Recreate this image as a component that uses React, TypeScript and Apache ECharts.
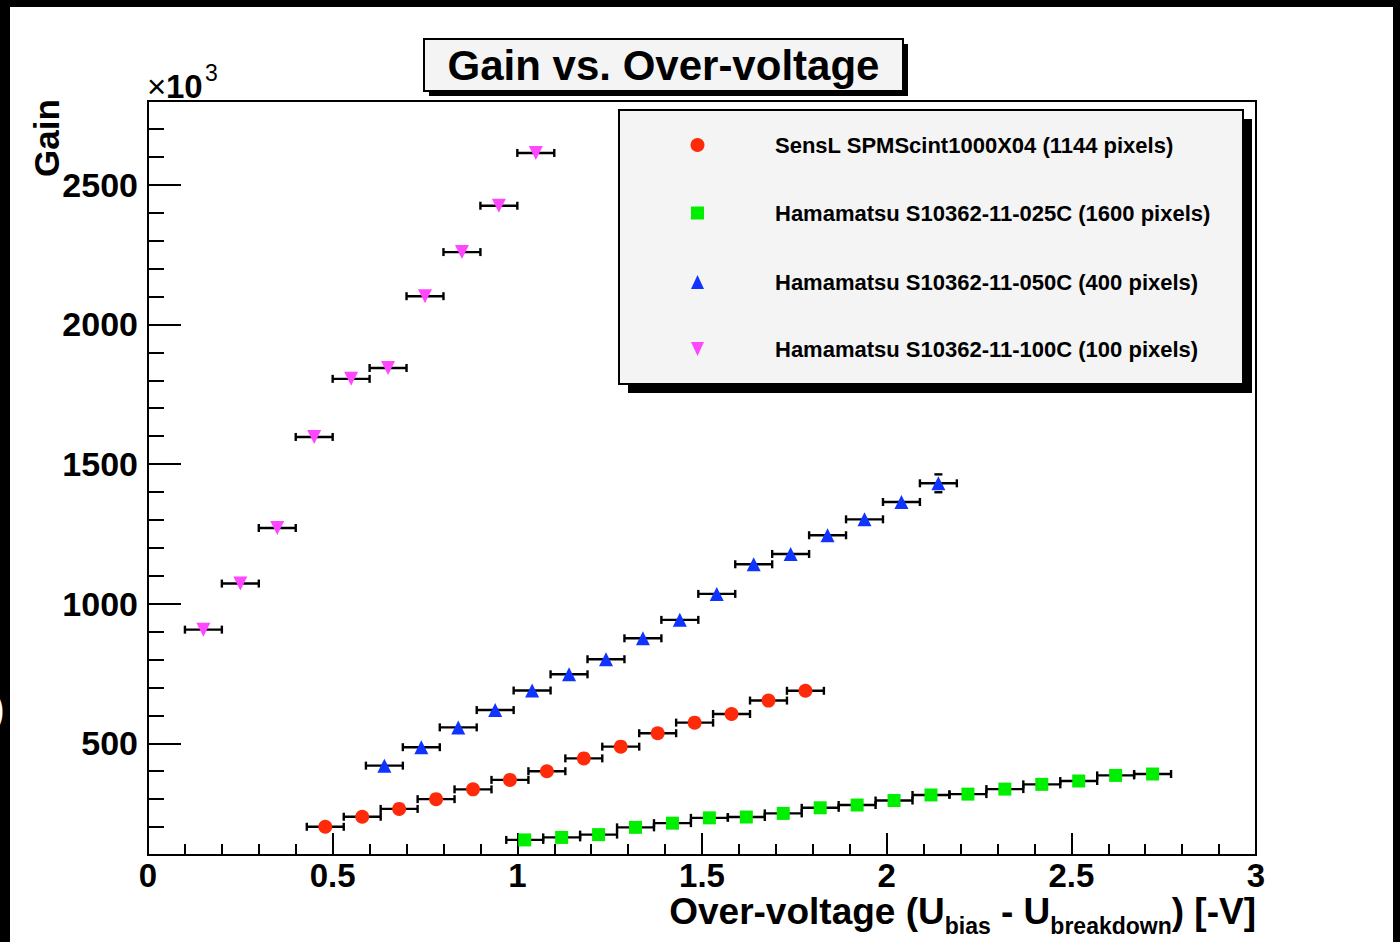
import React, { useEffect, useRef } from "react";
import * as echarts from "echarts";

const FONT = '"Liberation Sans", Arial, Helvetica, sans-serif';

// ---- data (Gain in units of 10^3) ----
const xSensL = [0.48, 0.58, 0.68, 0.78, 0.88, 0.98, 1.08, 1.18, 1.28, 1.38, 1.48, 1.58, 1.68, 1.78];
const ySensL = [201, 237, 265, 300, 335, 369, 400, 446, 488, 536, 574, 605, 653, 688];
const eySensL = [5, 5, 5, 5, 5, 5, 5, 5, 5, 5, 5, 5, 5, 5];

const x025 = [1.02, 1.12, 1.22, 1.32, 1.42, 1.52, 1.62, 1.72, 1.82, 1.92, 2.02, 2.12, 2.22, 2.32, 2.42, 2.52, 2.62, 2.72];
const y025 = [154, 163, 173, 199, 214, 233, 236, 249, 269, 279, 295, 315, 318, 336, 353, 365, 385, 390];
const ey025 = [3, 3, 3, 3, 3, 3, 3, 3, 3, 3, 3, 3, 3, 3, 3, 3, 3, 3];

const x050 = [0.64, 0.74, 0.84, 0.94, 1.04, 1.14, 1.24, 1.34, 1.44, 1.54, 1.64, 1.74, 1.84, 1.94, 2.04, 2.14];
const y050 = [420, 486, 557, 619, 689, 747, 801, 876, 942, 1035, 1141, 1178, 1245, 1302, 1364, 1431];
const ey050 = [8, 8, 9, 10, 10, 11, 12, 12, 13, 14, 15, 16, 17, 18, 20, 32];

const x100 = [0.15, 0.25, 0.35, 0.45, 0.55, 0.65, 0.75, 0.85, 0.95, 1.05];
const y100 = [907, 1072, 1271, 1597, 1805, 1844, 2101, 2259, 2425, 2614];
const ey100 = [10, 10, 12, 14, 15, 15, 17, 18, 19, 20];

const X_ERR = 0.05;

const seriesNames = [
  "SensL SPMScint1000X04 (1144 pixels)",
  "Hamamatsu S10362-11-025C (1600 pixels)",
  "Hamamatsu S10362-11-050C (400 pixels)",
  "Hamamatsu S10362-11-100C (100 pixels)",
];
const seriesColors = ["#ff2a0a", "#00ee00", "#1034ff", "#ff47ff"];

const yMajorTicks = [500, 1000, 1500, 2000, 2500];
const yMinorTicks = [200, 300, 400, 600, 700, 800, 900, 1100, 1200, 1300, 1400, 1600, 1700, 1800, 1900, 2100, 2200, 2300, 2400, 2600, 2700];
const X_MIN = 0, X_MAX = 3, X_STEP = 0.5;
const Y_MIN = 100, Y_MAX = 2800;

const renderErr = (_params: any, api: any) => {
  const x = api.value(0), y = api.value(1), ex = api.value(2), ey = api.value(3);
  const c = api.coord([x, y]);
  const l = api.coord([x - ex, y]);
  const r = api.coord([x + ex, y]);
  const st = { stroke: "#000", lineWidth: 2.4 };
  const cap = 4;
  const ch: any[] = [
    { type: "line", shape: { x1: l[0], y1: c[1], x2: r[0], y2: c[1] }, style: st },
    { type: "line", shape: { x1: l[0], y1: c[1] - cap, x2: l[0], y2: c[1] + cap }, style: st },
    { type: "line", shape: { x1: r[0], y1: c[1] - cap, x2: r[0], y2: c[1] + cap }, style: st },
  ];
  const t = api.coord([x, y + ey]);
  const b = api.coord([x, y - ey]);
  if (c[1] - t[1] > 7.5) {
    ch.push({ type: "line", shape: { x1: c[0] - cap, y1: t[1], x2: c[0] + cap, y2: t[1] }, style: st });
    ch.push({ type: "line", shape: { x1: c[0] - cap, y1: b[1], x2: c[0] + cap, y2: b[1] }, style: st });
  }
  return { type: "group", children: ch };
};

function buildOption() {
  const sets = [
    { xs: xSensL, ys: ySensL, ey: eySensL, symbol: "circle", size: 14, rot: 0 },
    { xs: x025, ys: y025, ey: ey025, symbol: "rect", size: 13, rot: 0 },
    { xs: x050, ys: y050, ey: ey050, symbol: "triangle", size: 14, rot: 0 },
    { xs: x100, ys: y100, ey: ey100, symbol: "triangle", size: 14, rot: 180 },
  ];
  const series: any[] = [];
  sets.forEach((s, i) => {
    series.push({
      type: "custom",
      name: seriesNames[i] + " err",
      renderItem: renderErr,
      encode: { x: 0, y: 1 },
      data: s.xs.map((x, k) => [x, s.ys[k], X_ERR, s.ey[k]]),
      z: 2,
      silent: true,
    });
  });
  sets.forEach((s, i) => {
    series.push({
      type: "scatter",
      name: seriesNames[i],
      symbol: s.symbol,
      symbolSize: s.size,
      symbolRotate: s.rot,
      itemStyle: { color: seriesColors[i], opacity: 1 },
      data: s.xs.map((x, k) => [x, s.ys[k]]),
      z: 3,
    });
  });

  const txt = (x: number, y: number, text: string, size: number, extra: any = {}) => ({
    type: "text",
    x,
    y,
    z: 100,
    style: { text, fontFamily: FONT, fontWeight: "bold", fontSize: size, fill: "#000", ...extra },
  });

  const legendY = [145, 213, 282, 349];
  const legendGraphics: any[] = [
    { type: "rect", shape: { x: 628, y: 119, width: 624, height: 274 }, style: { fill: "#000" }, z: 90 },
    { type: "rect", shape: { x: 619, y: 110, width: 624, height: 274 }, style: { fill: "#f4f4f4", stroke: "#000", lineWidth: 2 }, z: 91 },
    { type: "circle", shape: { cx: 697.5, cy: legendY[0], r: 7 }, style: { fill: seriesColors[0] }, z: 95 },
    { type: "rect", shape: { x: 691, y: legendY[1] - 6.5, width: 13, height: 13 }, style: { fill: seriesColors[1] }, z: 95 },
    { type: "polygon", shape: { points: [[697.5, legendY[2] - 7], [704, legendY[2] + 7], [691, legendY[2] + 7]] }, style: { fill: seriesColors[2] }, z: 95 },
    { type: "polygon", shape: { points: [[691, legendY[3] - 7], [704, legendY[3] - 7], [697.5, legendY[3] + 7]] }, style: { fill: seriesColors[3] }, z: 95 },
  ];
  seriesNames.forEach((n, i) => {
    legendGraphics.push(txt(775, legendY[i], n, 22, { verticalAlign: "middle" }));
  });

  const graphic: any[] = [
    // outer black frame edges
    { type: "rect", shape: { x: 0, y: 0, width: 10, height: 942 }, style: { fill: "#000" }, z: 100 },
    { type: "rect", shape: { x: 0, y: 0, width: 1400, height: 7 }, style: { fill: "#000" }, z: 100 },
    { type: "rect", shape: { x: 1393, y: 0, width: 7, height: 942 }, style: { fill: "#000" }, z: 100 },
    { type: "text", x: 5, y: 708, z: 101, style: { text: ")", fontFamily: FONT, fontSize: 42, fill: "#fff", align: "right", verticalAlign: "middle" } },
    // title box
    { type: "rect", shape: { x: 429, y: 44, width: 479, height: 52 }, style: { fill: "#000" }, z: 90 },
    { type: "rect", shape: { x: 424, y: 39, width: 479, height: 52 }, style: { fill: "#f4f4f4", stroke: "#000", lineWidth: 2 }, z: 91 },
    txt(663.5, 65, "Gain vs. Over-voltage", 42, { align: "center", verticalAlign: "middle" }),
    ...legendGraphics,
    // y unit
    txt(147, 86, "×", 33, { verticalAlign: "middle", fontWeight: "normal" }),
    txt(166, 86, "10", 33, { verticalAlign: "middle" }),
    txt(205, 73, "3", 23, { verticalAlign: "middle", fontWeight: "normal" }),
    // y title
    { ...txt(46, 138, "Gain", 35, { align: "center", verticalAlign: "middle" }), rotation: Math.PI / 2 },
    // x title
    {
      type: "text",
      x: 1256,
      y: 893,
      z: 100,
      style: {
        text: "{m|Over-voltage (U}{s|bias}{m| - U}{s|breakdown}{m|) [-V]}",
        align: "right",
        verticalAlign: "top",
        fill: "#000",
        rich: {
          m: { fontFamily: FONT, fontWeight: "bold", fontSize: 37, lineHeight: 30, verticalAlign: "top", fill: "#000" },
          s: { fontFamily: FONT, fontWeight: "bold", fontSize: 23, lineHeight: 20, verticalAlign: "top", padding: [21, 0, 0, 0], fill: "#000" },
        },
      },
    },
  ];

  return {
    animation: false,
    backgroundColor: "#fff",
    grid: { left: 148, top: 101, width: 1108, height: 754, show: true, borderColor: "#000", borderWidth: 2, backgroundColor: "transparent" },
    xAxis: {
      type: "value",
      min: X_MIN,
      max: X_MAX,
      interval: X_STEP,
      axisLine: { show: true, lineStyle: { color: "#000", width: 2 } },
      axisTick: { show: true, inside: true, length: 22, lineStyle: { color: "#000", width: 2 } },
      minorTick: { show: true, splitNumber: 5, length: 11, lineStyle: { color: "#000", width: 2 } },
      splitLine: { show: false },
      axisLabel: { margin: 9, lineHeight: 22, fontFamily: FONT, fontWeight: "bold", fontSize: 33, color: "#000", formatter: (v: number) => String(v) },
    },
    yAxis: [
      {
        type: "value",
        position: "left",
        min: Y_MIN,
        max: Y_MAX,
        axisLine: { show: true, lineStyle: { color: "#000", width: 2 } },
        axisTick: { show: true, inside: true, length: 33, customValues: yMajorTicks, lineStyle: { color: "#000", width: 2 } },
        axisLabel: { margin: 10, customValues: yMajorTicks, fontFamily: FONT, fontWeight: "bold", fontSize: 34, color: "#000", formatter: (v: number) => String(v) },
        splitLine: { show: false },
      },
      {
        type: "value",
        position: "left",
        min: Y_MIN,
        max: Y_MAX,
        axisLine: { show: false },
        axisTick: { show: true, inside: true, length: 16, customValues: yMinorTicks, lineStyle: { color: "#000", width: 2 } },
        axisLabel: { show: false },
        splitLine: { show: false },
      },
    ],
    series,
    graphic,
  };
}

export default function App() {
  const ref = useRef<HTMLDivElement>(null);
  useEffect(() => {
    if (!ref.current) return;
    const chart = echarts.init(ref.current, undefined, { renderer: "svg" });
    chart.setOption(buildOption() as any);
    return () => chart.dispose();
  }, []);
  return <div ref={ref} style={{ position: "fixed", left: 0, top: 0, width: 1400, height: 942, background: "#fff" }} />;
}
